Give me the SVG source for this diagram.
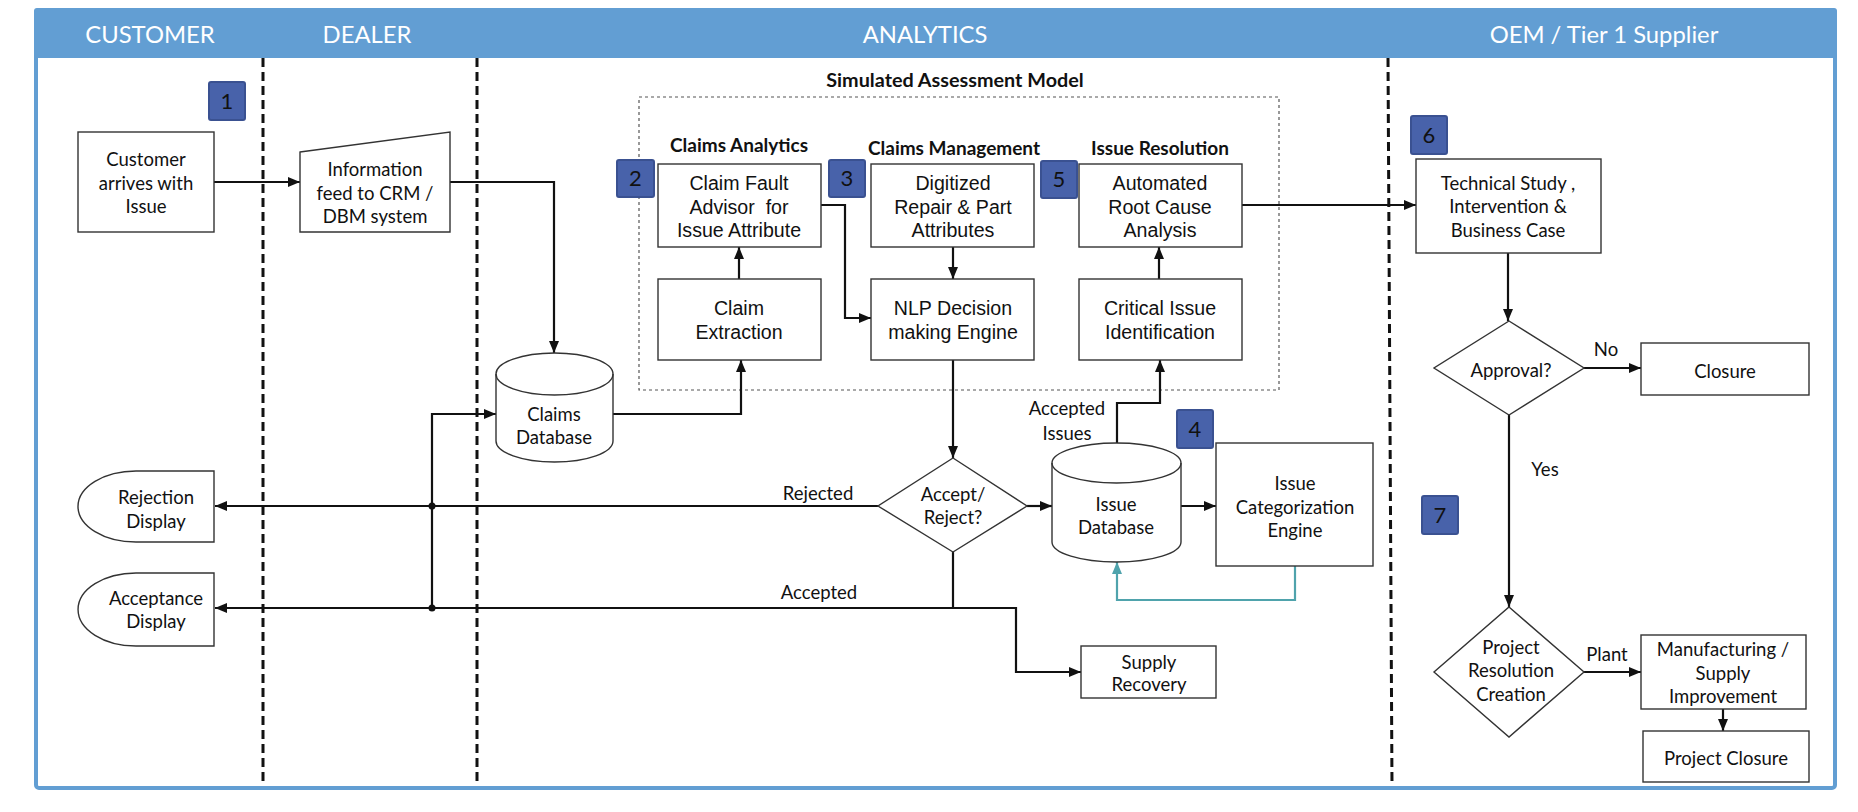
<svg xmlns="http://www.w3.org/2000/svg" width="1858" height="812" viewBox="0 0 1858 812">
<style>
.hdr{font-family:Lato,"Liberation Sans",sans-serif;font-size:23.8px;fill:#ffffff;text-anchor:middle}
.c{font-family:Lato,"Liberation Sans",sans-serif;font-size:18.5px;fill:#111;text-anchor:middle}
.a{font-family:"Liberation Sans",Arial,sans-serif;font-size:19.6px;fill:#111;text-anchor:middle}
.b{font-family:Lato,"Liberation Sans",sans-serif;font-size:19px;font-weight:bold;fill:#111;text-anchor:middle}
.num{font-family:Lato,"Liberation Sans",sans-serif;font-size:22px;fill:#111;text-anchor:middle}
.box{fill:#fff;stroke:#333;stroke-width:1.4}
.badge{fill:#4862aa;stroke:#3a5191;stroke-width:2}
.lane{stroke:#111;stroke-width:3;stroke-dasharray:9,5;fill:none}
.con{fill:none;stroke:#111;stroke-width:2.2}
.teal{fill:none;stroke:#4fa3ac;stroke-width:2.2}
</style>
<defs>
<marker id="ah" viewBox="0 0 12 10" refX="12" refY="5" markerWidth="12" markerHeight="10" markerUnits="userSpaceOnUse" orient="auto"><path d="M0,0 L12,5 L0,10 z" fill="#111"/></marker>
<marker id="aht" viewBox="0 0 12 10" refX="12" refY="5" markerWidth="12" markerHeight="10" markerUnits="userSpaceOnUse" orient="auto"><path d="M0,0 L12,5 L0,10 z" fill="#4fa3ac"/></marker>
</defs>
<rect width="1858" height="812" fill="#fff"/>
<g id="frame">
<rect x="36" y="10" width="1799" height="778" rx="3" fill="#fff" stroke="#629ed3" stroke-width="4"/>
<rect x="34" y="8" width="1803" height="50" rx="3" fill="#629ed3"/>
<text class="hdr" x="150" y="43">CUSTOMER</text>
<text class="hdr" x="367" y="43">DEALER</text>
<text class="hdr" x="925" y="43">ANALYTICS</text>
<text class="hdr" x="1604" y="43">OEM / Tier 1 Supplier</text>
<line class="lane" x1="263" y1="58" x2="263" y2="786"/>
<line class="lane" x1="477" y1="58" x2="477" y2="786"/>
<line class="lane" x1="1388" y1="58" x2="1392" y2="786"/>
</g>
<g id="sim-model">
<rect x="639" y="97" width="640" height="293" fill="none" stroke="#555" stroke-width="1.2" stroke-dasharray="3,3"/>
<text class="b" x="955" y="87" style="font-size:19.8px">Simulated Assessment Model</text>
<text class="b" x="739" y="152">Claims Analytics</text>
<text class="b" x="954" y="155">Claims Management</text>
<text class="b" x="1160" y="155">Issue Resolution</text>
</g>
<g id="connectors">
<path class="con" d="M214,182 H300" marker-end="url(#ah)"/>
<path class="con" d="M450,182 H554 V353" marker-end="url(#ah)"/>
<path class="con" d="M613,414 H741 V360" marker-end="url(#ah)"/>
<path class="con" d="M739,279 V247" marker-end="url(#ah)"/>
<path class="con" d="M821,205 H845 V318 H871" marker-end="url(#ah)"/>
<path class="con" d="M953,247 V279" marker-end="url(#ah)"/>
<path class="con" d="M953,360 V458" marker-end="url(#ah)"/>
<path class="con" d="M1159,279 V247" marker-end="url(#ah)"/>
<path class="con" d="M1242,205 H1416" marker-end="url(#ah)"/>
<path class="con" d="M1117,443 V403 H1160 V360" marker-end="url(#ah)"/>
<path class="con" d="M1027,506 H1052" marker-end="url(#ah)"/>
<path class="con" d="M1181,506 H1216" marker-end="url(#ah)"/>
<path class="teal" d="M1295,566 V600 H1117 V562" marker-end="url(#aht)"/>
<path class="con" d="M878,506 H215" marker-end="url(#ah)"/>
<path class="con" d="M953,552 V608 H215" marker-end="url(#ah)"/>
<path class="con" d="M953,608 H1016 V672 H1081" marker-end="url(#ah)"/>
<path class="con" d="M432,608 V414 H496" marker-end="url(#ah)"/>
<circle cx="432" cy="506" r="3.5" fill="#111"/>
<circle cx="432" cy="608" r="3.5" fill="#111"/>
<path class="con" d="M1508,253 V321" marker-end="url(#ah)"/>
<path class="con" d="M1584,368 H1641" marker-end="url(#ah)"/>
<path class="con" d="M1509,415 V607" marker-end="url(#ah)"/>
<path class="con" d="M1584,672 H1641" marker-end="url(#ah)"/>
<path class="con" d="M1723,709 V731" marker-end="url(#ah)"/>
<text class="c" x="818" y="499.5">Rejected</text>
<text class="c" x="819" y="598.5">Accepted</text>
<text class="c" x="1067" y="414.5">Accepted</text>
<text class="c" x="1067" y="439.5">Issues</text>
<text class="c" x="1606" y="356">No</text>
<text class="c" x="1545" y="475.5">Yes</text>
<text class="c" x="1607" y="661">Plant</text>
</g>
<g id="customer">
<rect class="box" x="78" y="132" width="136" height="100"/>
<text class="c" x="146" y="165.5">Customer</text>
<text class="c" x="146" y="189.5">arrives with</text>
<text class="c" x="146" y="212.5">Issue</text>
</g>
<g id="info-feed">
<path class="box" d="M300,152 L450,132 L450,232 L300,232 Z"/>
<text class="c" x="375" y="175.5">Information</text>
<text class="c" x="375" y="199.5">feed to CRM /</text>
<text class="c" x="375" y="222.5">DBM system</text>
</g>
<g id="claims-db">
<path class="box" d="M496,374 A58.5,21 0 0,1 613,374 L613,441 A58.5,21 0 0,1 496,441 Z"/>
<path d="M496,374 A58.5,21 0 0,0 613,374" fill="none" stroke="#333" stroke-width="1.4"/>
<text class="c" x="554" y="421">Claims</text>
<text class="c" x="554" y="444">Database</text>
</g>
<g id="claim-fault">
<rect class="box" x="658" y="164" width="163" height="83"/>
<text class="a" x="739" y="190">Claim Fault</text>
<text class="a" x="739" y="214" xml:space="preserve">Advisor  for</text>
<text class="a" x="739" y="237">Issue Attribute</text>
</g>
<g id="claim-extraction">
<rect class="box" x="658" y="279" width="163" height="81"/>
<text class="a" x="739" y="315">Claim</text>
<text class="a" x="739" y="339">Extraction</text>
</g>
<g id="digitized">
<rect class="box" x="871" y="164" width="163" height="83"/>
<text class="a" x="953" y="190">Digitized</text>
<text class="a" x="953" y="214">Repair &amp; Part</text>
<text class="a" x="953" y="237">Attributes</text>
</g>
<g id="nlp">
<rect class="box" x="871" y="279" width="163" height="81"/>
<text class="a" x="953" y="315">NLP Decision</text>
<text class="a" x="953" y="339">making Engine</text>
</g>
<g id="root-cause">
<rect class="box" x="1079" y="164" width="163" height="83"/>
<text class="a" x="1160" y="190">Automated</text>
<text class="a" x="1160" y="214">Root Cause</text>
<text class="a" x="1160" y="237">Analysis</text>
</g>
<g id="critical-issue">
<rect class="box" x="1079" y="279" width="163" height="81"/>
<text class="a" x="1160" y="315">Critical Issue</text>
<text class="a" x="1160" y="339">Identification</text>
</g>
<g id="accept-reject">
<path class="box" d="M953,458 L1027,506 L953,552 L878,506 Z"/>
<text class="c" x="953" y="500.5">Accept/</text>
<text class="c" x="953" y="523.5">Reject?</text>
</g>
<g id="issue-db">
<path class="box" d="M1052,463 A64.5,20 0 0,1 1181,463 L1181,542 A64.5,20 0 0,1 1052,542 Z"/>
<path d="M1052,463 A64.5,20 0 0,0 1181,463" fill="none" stroke="#333" stroke-width="1.4"/>
<text class="c" x="1116" y="511">Issue</text>
<text class="c" x="1116" y="534">Database</text>
</g>
<g id="categorization">
<rect class="box" x="1216" y="443" width="157" height="123"/>
<text class="c" x="1295" y="489.5">Issue</text>
<text class="c" x="1295" y="513.5">Categorization</text>
<text class="c" x="1295" y="536.5">Engine</text>
</g>
<g id="supply-recovery">
<rect class="box" x="1081" y="646" width="135" height="52"/>
<text class="c" x="1149" y="668.5">Supply</text>
<text class="c" x="1149" y="690.5">Recovery</text>
</g>
<g id="rejection-display">
<path class="box" d="M214,471 L136,471 A58,35.5 0 0,0 136,542 L214,542 Z"/>
<text class="c" x="156" y="503.5">Rejection</text>
<text class="c" x="156" y="527.5">Display</text>
</g>
<g id="acceptance-display">
<path class="box" d="M214,573 L136,573 A58,36.5 0 0,0 136,646 L214,646 Z"/>
<text class="c" x="156" y="604.5">Acceptance</text>
<text class="c" x="156" y="627.5">Display</text>
</g>
<g id="technical-study">
<rect class="box" x="1416" y="159" width="185" height="94"/>
<text class="c" x="1508" y="189.5">Technical Study ,</text>
<text class="c" x="1508" y="212.5">Intervention &amp;</text>
<text class="c" x="1508" y="236.5">Business Case</text>
</g>
<g id="approval">
<path class="box" d="M1509,321 L1584,368 L1509,415 L1434,368 Z"/>
<text class="c" x="1511" y="376.5">Approval?</text>
</g>
<g id="closure">
<rect class="box" x="1641" y="343" width="168" height="52"/>
<text class="c" x="1725" y="377.5">Closure</text>
</g>
<g id="project-resolution">
<path class="box" d="M1509,607 L1584,672 L1509,737 L1434,672 Z"/>
<text class="c" x="1511" y="653.5">Project</text>
<text class="c" x="1511" y="676.5">Resolution</text>
<text class="c" x="1511" y="700.5">Creation</text>
</g>
<g id="manufacturing">
<rect class="box" x="1641" y="635" width="165" height="74"/>
<text class="c" x="1723" y="655.5">Manufacturing /</text>
<text class="c" x="1723" y="679.5">Supply</text>
<text class="c" x="1723" y="702.5">Improvement</text>
</g>
<g id="project-closure">
<rect class="box" x="1643" y="731" width="166" height="51"/>
<text class="c" x="1726" y="764.5">Project Closure</text>
</g>
<g id="badge-1"><rect class="badge" x="209" y="82" width="36" height="38" rx="2"/><text class="num" x="227" y="109">1</text></g>
<g id="badge-2"><rect class="badge" x="617" y="160" width="37" height="37" rx="2"/><text class="num" x="635.5" y="186">2</text></g>
<g id="badge-3"><rect class="badge" x="829" y="160" width="36" height="37" rx="2"/><text class="num" x="847" y="186">3</text></g>
<g id="badge-5"><rect class="badge" x="1041" y="161" width="36" height="37" rx="2"/><text class="num" x="1059" y="187">5</text></g>
<g id="badge-4"><rect class="badge" x="1177" y="410" width="36" height="38" rx="2"/><text class="num" x="1195" y="437">4</text></g>
<g id="badge-6"><rect class="badge" x="1411" y="116" width="36" height="38" rx="2"/><text class="num" x="1429" y="143">6</text></g>
<g id="badge-7"><rect class="badge" x="1422" y="496" width="36" height="38" rx="2"/><text class="num" x="1440" y="523">7</text></g>
</svg>
